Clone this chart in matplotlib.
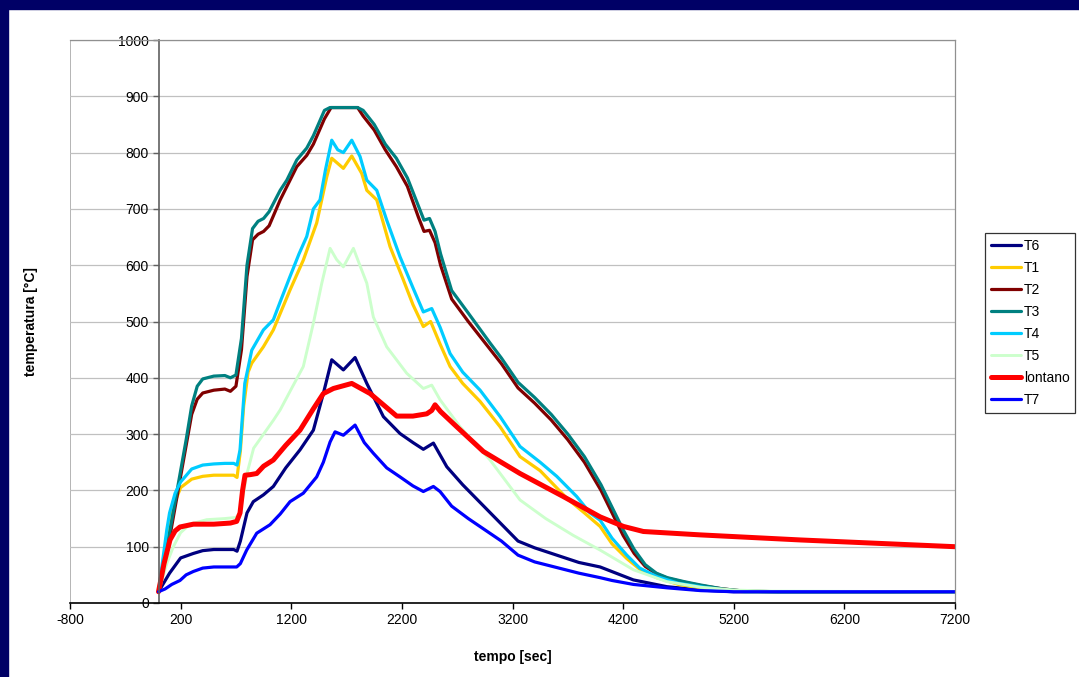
import matplotlib
matplotlib.use('Agg')
import matplotlib.pyplot as plt
from matplotlib.patches import Rectangle

plt.rcParams['font.family'] = ['Liberation Sans', 'DejaVu Sans']
plt.rcParams['axes.unicode_minus'] = False
plt.rcParams['lines.solid_joinstyle'] = 'round'
plt.rcParams['lines.solid_capstyle'] = 'round'

# data (time in s, temperature in degC)
t6_t = [0, 100, 200, 315, 400, 500, 600, 680, 710, 740, 800, 857, 948, 1038, 1150, 1279, 1400, 1490, 1566, 1671, 1777, 1883, 2033, 2183, 2300, 2394, 2485, 2606, 2750, 2900, 3100, 3250, 3400, 3600, 3800, 3992, 4293, 4595, 4900, 5200, 7200]
t6_y = [20, 53, 80, 88, 93, 95, 95, 95, 92, 110, 160, 180, 192, 207, 240, 272, 307, 372, 432, 414, 436, 390, 331, 301, 285, 273, 284, 242, 210, 180, 140, 110, 98, 85, 72, 64, 41, 29, 23, 20, 20]

t1_t = [0, 100, 150, 200, 300, 400, 500, 600, 680, 710, 740, 770, 810, 843, 948, 1038, 1189, 1309, 1430, 1521, 1566, 1671, 1747, 1837, 1883, 1973, 2093, 2213, 2300, 2394, 2460, 2545, 2636, 2750, 2907, 3088, 3268, 3450, 3691, 3850, 3992, 4100, 4233, 4350, 4504, 4700, 4896, 5100, 5300, 7200]
t1_y = [20, 140, 180, 205, 220, 225, 227, 227, 227, 223, 270, 350, 410, 426, 455, 485, 556, 609, 675, 757, 790, 772, 794, 763, 733, 716, 633, 574, 530, 491, 500, 460, 420, 390, 358, 313, 260, 235, 186, 160, 136, 105, 79, 60, 45, 33, 27, 22, 20, 20]

t2_t = [0, 100, 200, 250, 300, 350, 400, 500, 600, 650, 700, 750, 800, 850, 900, 950, 1000, 1100, 1250, 1340, 1400, 1500, 1560, 1800, 1850, 1950, 2050, 2150, 2250, 2350, 2400, 2450, 2500, 2550, 2650, 2800, 3000, 3100, 3250, 3400, 3550, 3700, 3850, 4000, 4100, 4200, 4300, 4400, 4500, 4600, 4750, 4900, 5100, 5300, 5600, 7200]
t2_y = [20, 115, 225, 280, 335, 362, 373, 378, 380, 376, 385, 450, 580, 645, 655, 660, 670, 716, 775, 795, 815, 860, 880, 880, 865, 840, 805, 775, 740, 685, 660, 662, 640, 600, 540, 500, 450, 425, 382, 355, 325, 290, 250, 200, 160, 120, 88, 65, 52, 44, 37, 31, 25, 21, 20, 20]

t3_t = [0, 100, 200, 250, 300, 350, 400, 500, 600, 650, 700, 750, 800, 850, 900, 950, 1000, 1100, 1160, 1250, 1340, 1400, 1500, 1550, 1800, 1850, 1950, 2050, 2150, 2250, 2350, 2400, 2450, 2500, 2550, 2650, 2800, 3000, 3100, 3250, 3400, 3550, 3700, 3850, 4000, 4100, 4200, 4300, 4400, 4500, 4600, 4750, 4900, 5100, 5300, 5600, 7200]
t3_y = [20, 125, 235, 290, 350, 385, 398, 403, 404, 400, 405, 470, 600, 665, 678, 683, 695, 733, 751, 787, 808, 830, 875, 880, 880, 875, 850, 815, 790, 755, 705, 680, 683, 660, 620, 555, 515, 461, 435, 392, 365, 335, 300, 260, 210, 170, 130, 95, 68, 53, 45, 38, 32, 25, 21, 20, 20]

t4_t = [0, 75, 100, 150, 200, 300, 400, 500, 600, 680, 710, 737, 780, 843, 948, 1038, 1100, 1189, 1270, 1340, 1400, 1460, 1510, 1566, 1620, 1671, 1747, 1822, 1883, 1973, 2063, 2183, 2300, 2394, 2470, 2545, 2636, 2750, 2907, 3088, 3268, 3450, 3600, 3781, 3900, 3992, 4100, 4233, 4350, 4504, 4700, 4896, 5100, 5300, 7200]
t4_y = [20, 130, 160, 195, 215, 238, 245, 247, 248, 248, 245, 272, 390, 449, 485, 503, 535, 580, 620, 651, 700, 716, 770, 822, 805, 800, 822, 793, 751, 733, 680, 615, 560, 517, 523, 490, 443, 410, 378, 331, 278, 250, 225, 189, 160, 147, 115, 85, 62, 47, 35, 29, 23, 20, 20]

t5_t = [0, 75, 134, 200, 285, 436, 600, 700, 737, 800, 860, 950, 1040, 1100, 1200, 1309, 1400, 1476, 1551, 1610, 1671, 1762, 1820, 1883, 1942, 2063, 2244, 2394, 2470, 2545, 2726, 2997, 3268, 3500, 3750, 3992, 4293, 4595, 4900, 5200, 5550, 7200]
t5_y = [20, 70, 100, 125, 140, 148, 150, 152, 160, 230, 275, 300, 325, 343, 380, 420, 497, 568, 630, 610, 597, 630, 600, 568, 508, 455, 408, 381, 387, 361, 313, 254, 183, 150, 120, 94, 59, 38, 28, 23, 21, 20]

lont_t = [0, 50, 104, 150, 194, 315, 500, 650, 707, 737, 760, 782, 830, 888, 950, 1038, 1150, 1279, 1400, 1490, 1581, 1747, 1913, 2033, 2153, 2300, 2425, 2470, 2500, 2550, 2696, 2937, 3268, 3660, 3992, 4203, 4383, 4896, 5800, 6500, 7200]
lont_y = [20, 70, 112, 128, 135, 140, 140, 142, 145, 160, 200, 227, 228, 230, 243, 254, 280, 307, 345, 372, 381, 390, 372, 352, 332, 332, 336, 342, 352, 340, 313, 269, 230, 189, 153, 136, 127, 121, 112, 106, 100]

t7_t = [0, 60, 120, 194, 250, 315, 400, 500, 600, 707, 740, 797, 888, 1008, 1100, 1189, 1309, 1430, 1490, 1551, 1596, 1671, 1777, 1860, 1942, 2063, 2183, 2300, 2394, 2485, 2545, 2650, 2800, 2950, 3100, 3250, 3400, 3600, 3800, 3992, 4100, 4293, 4595, 4900, 5200, 7200]
t7_y = [20, 25, 33, 40, 50, 56, 62, 64, 64, 64, 70, 94, 124, 139, 158, 180, 195, 224, 250, 286, 304, 298, 316, 285, 266, 240, 224, 208, 198, 207, 198, 172, 150, 130, 110, 85, 73, 63, 53, 45, 40, 33, 27, 22, 20, 20]

fig = plt.figure(figsize=(10.79, 6.77), dpi=100)
# navy frame strips (top and left)
fig.patches.append(Rectangle((0, 1 - 9 / 677), 1, 9 / 677, transform=fig.transFigure, color='#000066', zorder=0))
fig.patches.append(Rectangle((0, 0), 8 / 1079, 1, transform=fig.transFigure, color='#000066', zorder=0))

ax = fig.add_axes([70 / 1079, 1 - 603 / 677, 885 / 1079, 563 / 677])

ax.plot(t6_t, t6_y, color='#000080', lw=2.3, label='T6')
ax.plot(t1_t, t1_y, color='#FFCC00', lw=2.3, label='T1')
ax.plot(t2_t, t2_y, color='#800000', lw=2.3, label='T2')
ax.plot(t3_t, t3_y, color='#008080', lw=2.3, label='T3')
ax.plot(t4_t, t4_y, color='#00CCFF', lw=2.3, label='T4')
ax.plot(t5_t, t5_y, color='#CCFFCC', lw=2.1, label='T5')
ax.plot(lont_t, lont_y, color='#FF0000', lw=3.6, label='lontano')
ax.plot(t7_t, t7_y, color='#0000FF', lw=2.3, label='T7')

ax.set_xlim(-800, 7200)
ax.set_ylim(0, 1000)
ax.set_xticks(range(-800, 7201, 1000))
ax.set_yticks(range(0, 1001, 100))
ax.grid(axis='y', color='#c0c0c0', lw=0.9)
ax.set_axisbelow(True)

ax.spines['left'].set_position(('data', 0))
ax.spines['left'].set_color('#606060')
ax.spines['left'].set_linewidth(1.2)
ax.spines['bottom'].set_color('black')
ax.spines['bottom'].set_linewidth(1.2)
for s in ['top', 'right']:
    ax.spines[s].set_color('#909090')
    ax.spines[s].set_linewidth(0.9)
ax.axvline(-800, color='#a8a8a8', lw=1.2, zorder=0)

ax.tick_params(axis='both', direction='out', length=4, width=1, labelsize=10, pad=3)
ax.tick_params(axis='y', colors='#606060', labelcolor='black')

ax.set_xlabel('tempo [sec]', fontsize=10, fontweight='bold')
ax.set_ylabel('temperatura [°C]', fontsize=10, fontweight='bold')
ax.xaxis.set_label_coords(0.5, -0.083)
ax.yaxis.set_label_coords(-0.036, 0.5)

leg = fig.legend(loc='upper left', bbox_to_anchor=(985 / 1079, 1 - 233 / 677), fontsize=10,
                 frameon=True, fancybox=False, edgecolor='black', borderaxespad=0,
                 handlelength=2.2, handletextpad=0.2, borderpad=0.4, labelspacing=0.58)
leg.get_frame().set_linewidth(0.9)

fig.savefig('out.png', dpi=100, facecolor='white')
